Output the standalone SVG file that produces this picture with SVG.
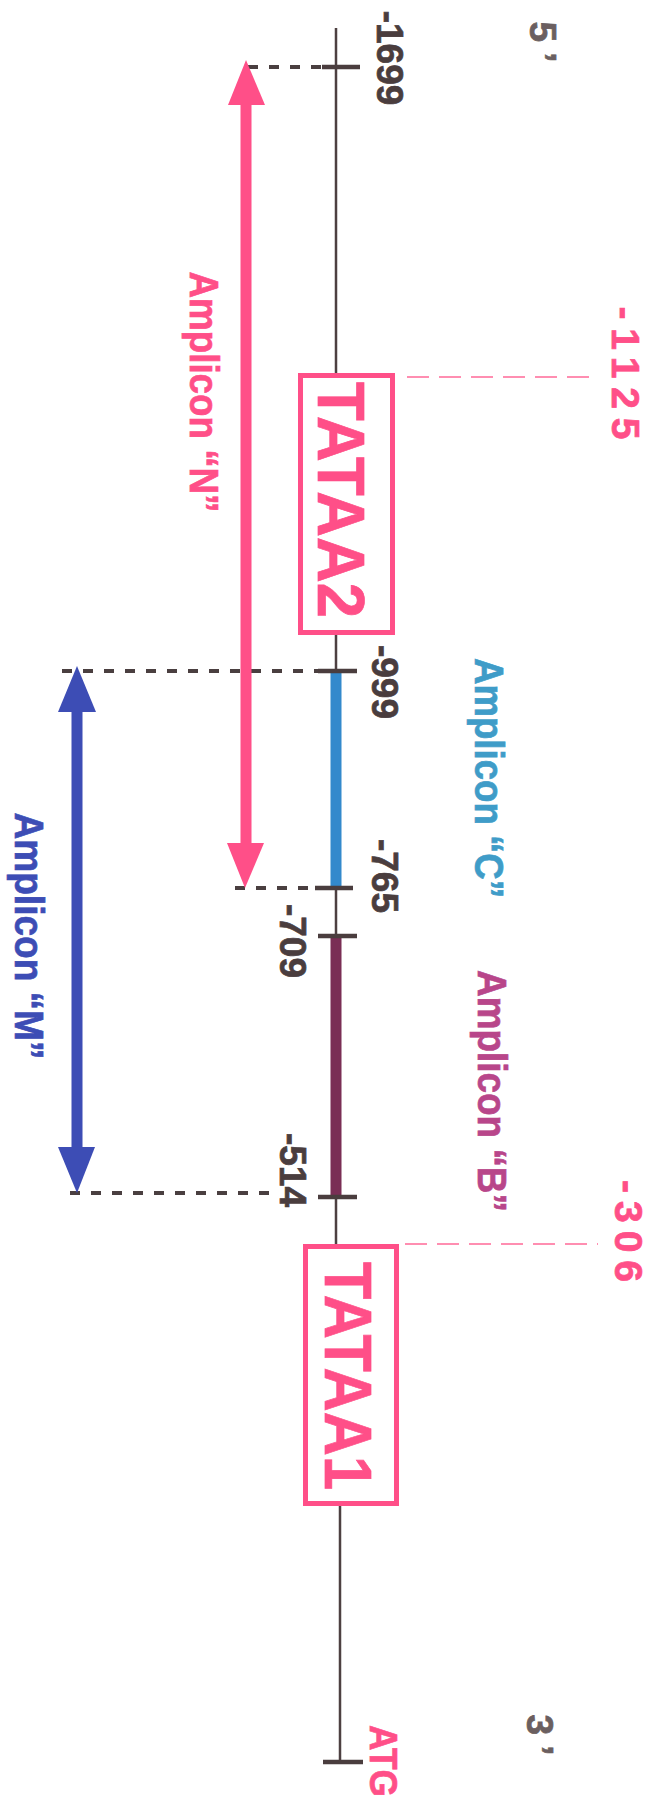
<svg xmlns="http://www.w3.org/2000/svg" width="654" height="1804" viewBox="0 0 654 1804">
<style>
.t{font-family:"Liberation Sans",Arial,sans-serif;font-weight:bold;text-anchor:middle;stroke-width:0.7}
.num{font-size:37px;fill:#4a3d3e;stroke:#4a3d3e}
.end{font-size:37px;fill:#6b5f60;stroke:#6b5f60}
.pk{fill:#ff4f88;stroke:#ff4f88}
.amp{font-size:41px}
.bb{stroke:#4d4041;stroke-width:2.5;fill:none}
.tick{stroke:#4a3d3e;stroke-width:4.5}
.dash{stroke:#4a3f40;stroke-width:4;stroke-dasharray:10 11;fill:none}
.pdash{stroke:#ff6a98;stroke-width:1.3;stroke-dasharray:22 10;fill:none}
.box{fill:#fff;stroke:#ff4f88;stroke-width:5}
</style>
<rect width="654" height="1804" fill="#ffffff"/>

<g id="backbone">
  <line class="bb" x1="336" y1="28" x2="336" y2="375"/>
  <line class="bb" x1="336" y1="633" x2="336" y2="1246"/>
  <line class="bb" x1="340" y1="1504" x2="340" y2="1762"/>
  <line x1="336" y1="671" x2="336" y2="888" stroke="#3389cc" stroke-width="11"/>
  <line x1="336" y1="936" x2="336" y2="1197" stroke="#7a2e55" stroke-width="11"/>
  <line class="tick" x1="322" y1="67" x2="360" y2="67"/>
  <line class="tick" x1="318" y1="671" x2="357" y2="671"/>
  <line class="tick" x1="315" y1="888" x2="353" y2="888"/>
  <line class="tick" x1="318" y1="936" x2="357" y2="936"/>
  <line class="tick" x1="318" y1="1197" x2="357" y2="1197"/>
  <line class="tick" x1="323" y1="1762" x2="363" y2="1762"/>
</g>

<g id="connectors">
  <line class="dash" x1="248" y1="67" x2="322" y2="67"/>
  <line class="dash" x1="62" y1="671" x2="318" y2="671"/>
  <line class="dash" x1="235" y1="888" x2="315" y2="888"/>
  <line class="dash" x1="70" y1="1193" x2="275" y2="1193"/>
  <line class="pdash" x1="407" y1="377" x2="595" y2="377"/>
  <line class="pdash" x1="405" y1="1244" x2="598" y2="1244"/>
</g>

<g id="tataa2">
  <rect class="box" x="300.5" y="375.5" width="92" height="257"/>
  <text class="t pk" font-size="66" textLength="236" lengthAdjust="spacingAndGlyphs" transform="translate(318,500) rotate(90)">TATAA2</text>
</g>

<g id="tataa1">
  <rect class="box" x="305.5" y="1246.5" width="91" height="257"/>
  <text class="t pk" font-size="66" textLength="228" lengthAdjust="spacingAndGlyphs" transform="translate(325,1376) rotate(90)">TATAA1</text>
</g>

<g id="amplicon-N">
  <line x1="246" y1="100" x2="246" y2="848" stroke="#ff4f88" stroke-width="11"/>
  <polygon points="246,60 228,105 265,105" fill="#ff4f88"/>
  <polygon points="227,843 264,843 245,888" fill="#ff4f88"/>
  <text class="t amp pk" textLength="241" lengthAdjust="spacingAndGlyphs" transform="translate(190,392) rotate(90)">Amplicon “N”</text>
</g>

<g id="amplicon-M">
  <line x1="77" y1="708" x2="77" y2="1150" stroke="#3d4db5" stroke-width="11"/>
  <polygon points="77,666 58,712 96,712" fill="#3d4db5"/>
  <polygon points="58,1147 95,1147 77,1193" fill="#3d4db5"/>
  <text class="t amp" fill="#3d4db5" stroke="#3d4db5" textLength="247" lengthAdjust="spacingAndGlyphs" transform="translate(15,936) rotate(90)">Amplicon “M”</text>
</g>

<g id="amplicon-C">
  <text class="t amp" fill="#3f9cc8" stroke="#3f9cc8" textLength="240" lengthAdjust="spacingAndGlyphs" transform="translate(475,778) rotate(90)">Amplicon “C”</text>
</g>

<g id="amplicon-B">
  <text class="t amp" fill="#b8468a" stroke="#b8468a" textLength="242" lengthAdjust="spacingAndGlyphs" transform="translate(478,1091) rotate(90)">Amplicon “B”</text>
</g>

<g id="labels">
  <text class="t end" transform="translate(530,42) rotate(90)">5 ’</text>
  <text class="t end" transform="translate(527,1735) rotate(90)">3 ’</text>
  <text class="t num" transform="translate(377,58) rotate(90)">-1699</text>
  <text class="t num" transform="translate(372,682) rotate(90)">-999</text>
  <text class="t num" transform="translate(372,876) rotate(90)">-765</text>
  <text class="t num" transform="translate(280,941) rotate(90)">-709</text>
  <text class="t num" transform="translate(280,1170) rotate(90)">-514</text>
  <text class="t pk" font-size="39" textLength="133" lengthAdjust="spacing" transform="translate(612,373) rotate(90)">-1125</text>
  <text class="t pk" font-size="39" textLength="102" lengthAdjust="spacing" transform="translate(615,1231) rotate(90)">-306</text>
  <text class="t pk" font-size="38" textLength="72" lengthAdjust="spacingAndGlyphs" transform="translate(370,1761) rotate(90)">ATG</text>
</g>
</svg>
